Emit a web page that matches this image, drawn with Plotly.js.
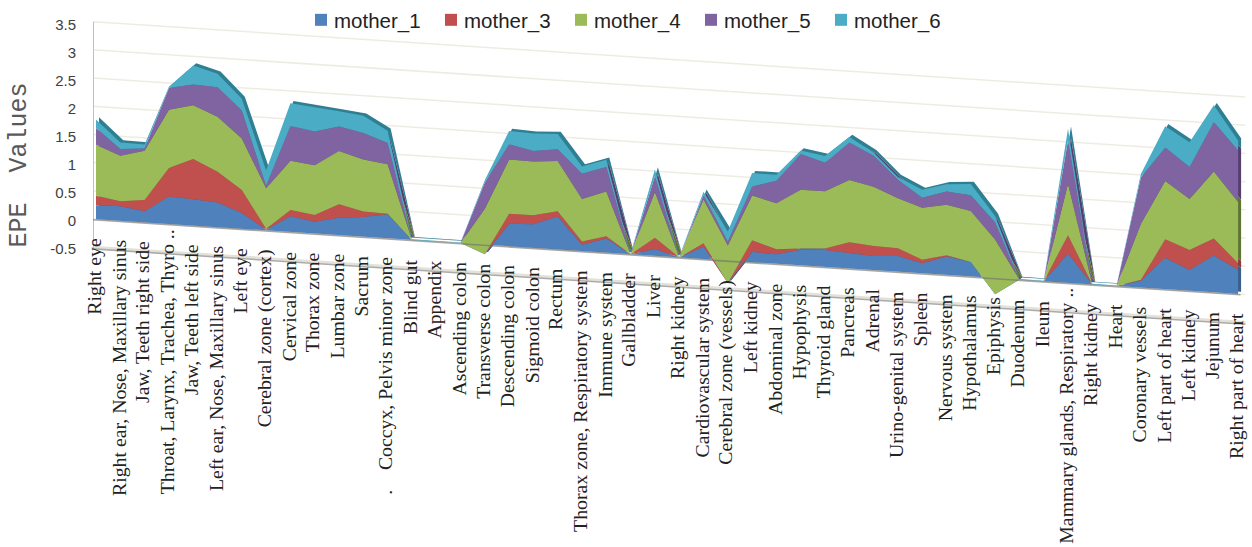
<!DOCTYPE html>
<html>
<head>
<meta charset="utf-8">
<script src="https://cdn.plot.ly/plotly-3.0.1.min.js"></script>
<style>html,body{margin:0;padding:0;background:#fff}#chart{width:1252px;height:547px}</style>
</head>
<body>
<div id="chart"></div>
<script>
const categories = ["Right eye","Right ear, Nose, Maxillary sinus","Jaw, Teeth right side","Throat, Larynx, Trachea, Thyro ..","Jaw, Teeth left side","Left ear, Nose, Maxillary sinus","Left eye","Cerebral zone (cortex)","Cervical zone","Thorax zone","Lumbar zone","Sacrum",".\u00A0\u00A0\u00A0\u00A0Coccyx, Pelvis minor zone","Blind gut","Appendix","Ascending colon","Transverse colon","Descending colon","Sigmoid colon","Rectum","Thorax zone, Respiratory system","Immune system","Gallbladder","Liver","Right kidney","Cardiovascular system","Cerebral zone (vessels)","Left kidney","Abdominal zone","Hypophysis","Thyroid gland","Pancreas","Adrenal","Urino-genital system","Spleen","Nervous system","Hypothalamus","Epiphysis","Duodenum","Ileum","Mammary glands, Respiratory ..","Right kidney","Heart","Coronary vessels","Left part of heart","Left kidney","Jejunum","Right part of heart"];
const mother_1 = [.25,.26,.20,.49,.47,.44,.28,.01,.28,.21,.31,.35,.43,0,0,0,-.17,.40,.42,.59,.11,.25,0,.12,0,.22,-.40,.18,.17,.28,.30,.27,.25,.28,.18,.33,.26,-.29,0,0,.52,0,0,.12,.56,.37,.66,.43];
const mother_3 = [.17,.09,.20,.51,.72,.55,.41,.02,.11,.12,.24,.10,.01,0,0,0,0,.18,.16,.09,.06,.04,0,.20,0,.06,0,.21,.09,.02,.03,.20,.18,.14,.06,.02,0,0,0,0,.33,0,0,.02,.33,.36,.30,.12];
const mother_4 = [.91,.81,.88,1.04,.96,.98,.92,.72,.88,.89,.95,.93,.88,0,0,0,.81,.97,.96,.90,.76,.80,0,.82,0,.78,.67,.80,.82,1.05,1.02,1.11,1.06,.89,.93,.90,.91,.98,0,0,.92,0,0,1.0,1.04,.91,1.20,1.09];
const mother_5 = [.30,.12,.04,.39,.37,.53,.50,.05,.62,.60,.44,.47,.38,0,0,0,.47,.27,.19,.21,.45,.44,0,.28,0,.08,.07,.16,.40,.64,.51,.67,.55,.33,.18,.24,.28,.30,0,0,.77,0,0,.83,.60,.57,.88,.92];
const mother_6 = [.15,.12,.07,.02,.34,.24,.21,.27,.41,.44,.27,.31,.22,.01,.01,.01,.04,.24,.31,.27,.13,.13,.01,.12,.01,.06,.18,.24,.11,.06,.12,.10,.06,.05,.14,.13,.20,.12,.01,.01,.21,.01,.01,.06,.38,.44,.30,.18];
const seriesNames = ["mother_1","mother_3","mother_4","mother_5","mother_6"];
const seriesValues = [mother_1,mother_3,mother_4,mother_5,mother_6];
const seriesColors = ["#4F81BD","#C0504D","#9BBB59","#8064A2","#4BACC6"];
const sideColors = ["#3A5F8C","#8E3A38","#5F7433","#54406F","#2F7F93"];
const yTicks = [-0.5,0,0.5,1,1.5,2,2.5,3,3.5];

// Layout of the sheared (pseudo-3D) plot, in pixels
const PXU = 56, STEP = 24.3, LEFT = 93, FIRST = 96, ZERO = 220.5, PLOT_H = 330;
const SHEAR = 1.59 / PXU, SCALE = 1.007, OFFSET = 0.023;
const sy = (i, v) => v * SCALE + OFFSET - SHEAR * i;
const idx = categories.map((_, i) => i);
const xMin = (LEFT - FIRST) / STEP, xMax = (1250 - FIRST) / STEP;

const traces = [];
// gridlines
yTicks.forEach(t => {
  const xs = [xMin, 47.3];
  traces.push({x: xs, y: xs.map(i => sy(i, t)), mode: 'lines', showlegend: false, hoverinfo: 'skip',
    line: {color: t === -0.5 ? '#E4E2D8' : '#EEECE2', width: t === -0.5 ? 3 : 1.5}});
});
// floor front edge
{
  const xs = [xMin, 47.3];
  traces.push({x: xs, y: xs.map(i => sy(i, -0.53)), mode: 'lines', showlegend: false, hoverinfo: 'skip',
    line: {color: '#ABABAB', width: 1.6}});
  // wall
  traces.push({x: [xMin, xMin], y: [sy(xMin, 3.5), sy(xMin, -0.53)], mode: 'lines', showlegend: false, hoverinfo: 'skip',
    line: {color: '#BFBFBF', width: 2}});
}
// stack boundaries
const cum = [idx.map(() => 0)];
seriesValues.forEach((vals, s) => cum.push(vals.map((v, i) => cum[s][i] + v)));
const STACK = 1 / SCALE;
const poly = (s, dx, dy) => {
  const up = cum[s + 1], lo = cum[s];
  return {
    x: idx.map(i => i + dx).concat(idx.slice().reverse().map(i => i + dx)),
    y: idx.map(i => sy(i, up[i] * STACK) + dy).concat(idx.slice().reverse().map(i => sy(i, lo[i] * STACK) + dy))
  };
};
// depth sides, back to front
for (let s = seriesValues.length - 1; s >= 0; s--) {
  const p = poly(s, 3 / STEP, 2.2 / PXU);
  traces.push({x: p.x, y: p.y, mode: 'lines', fill: 'toself', fillcolor: sideColors[s],
    line: {width: 0, color: sideColors[s]}, showlegend: false, hoverinfo: 'skip'});
}
// front faces
seriesValues.forEach((_, s) => {
  const p = poly(s, 0, 0);
  traces.push({x: p.x, y: p.y, mode: 'lines', fill: 'toself', fillcolor: seriesColors[s],
    line: {width: 0, color: seriesColors[s]}, showlegend: false, hoverinfo: 'skip', name: seriesNames[s]});
});
// base line
{
  const xs = [xMin, 47.1];
  traces.push({x: xs, y: xs.map(i => sy(i, -0.012)), mode: 'lines', showlegend: false, hoverinfo: 'skip',
    line: {color: 'rgba(110,110,110,0.6)', width: 1.6}});
}
// legend entries
seriesNames.forEach((n, s) => traces.push({x: [null], y: [null], mode: 'markers', name: n,
  marker: {symbol: 'square', size: 12, color: seriesColors[s]}, hoverinfo: 'skip'}));

// category labels follow the sheared floor
const annotations = categories.map((c, i) => ({
  x: i, y: sy(i, -0.30), xref: 'x', yref: 'y', text: c, textangle: -90, showarrow: false,
  xanchor: 'center', yanchor: 'top', xshift: -2, yshift: / \.\.$/.test(c) ? 14 : 0,
  font: {family: '"Liberation Serif", serif', size: 19.8, color: '#222'}
}));

const layout = {
  width: 1252, height: 547, paper_bgcolor: '#fff', plot_bgcolor: '#fff', autosize: false,
  margin: {l: LEFT, r: 2, t: 0, b: 547 - PLOT_H, pad: 0},
  xaxis: {range: [xMin, xMax], visible: false, fixedrange: true},
  yaxis: {
    range: [(ZERO - PLOT_H) / PXU, ZERO / PXU], tickvals: yTicks, ticktext: yTicks.map(String),
    showgrid: false, zeroline: false, showline: false, ticks: '', ticklabelstandoff: 16,
    tickfont: {family: '"Liberation Sans", sans-serif', size: 15, color: '#404040'},
    fixedrange: true,
    title: {text: 'EPE\u00A0\u00A0Values', standoff: 16,
      font: {family: '"Liberation Mono", monospace', size: 25, color: '#595959'}}
  },
  legend: {orientation: 'h', x: (301 - LEFT - 7) / 1157, y: 1.0, xanchor: 'left', yanchor: 'top',
    font: {family: '"Liberation Sans", sans-serif', size: 20.5, color: '#222'},
    entrywidth: 85, entrywidthmode: 'pixels', bgcolor: 'rgba(0,0,0,0)', borderwidth: 0},
  annotations, showlegend: true
};
Plotly.newPlot('chart', traces, layout, {staticPlot: true, displayModeBar: false}).then(gd => {
  // the swatch sits close to its text, as in the source chart
  gd.querySelectorAll('.legend .legendsymbols').forEach(g => g.setAttribute('transform', 'translate(7,0)'));
});
</script>
</body>
</html>
